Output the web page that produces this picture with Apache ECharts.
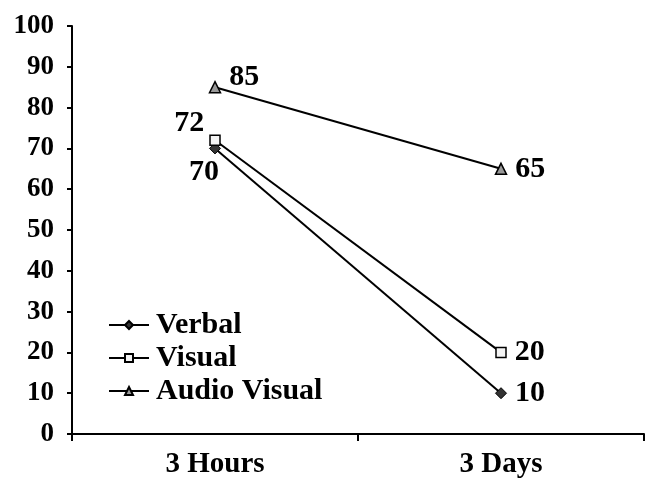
<!DOCTYPE html>
<html>
<head>
<meta charset="utf-8">
<script src="https://cdn.jsdelivr.net/npm/echarts@6/dist/echarts.min.js"></script>
<style>html,body{margin:0;padding:0;background:#fff;}#c{width:648px;height:480px;}</style>
</head>
<body>
<div id="c"></div>
<script>
var categories = ['3 Hours', '3 Days'];
var verbal = [70, 10];
var visual = [72, 20];
var audioVisual = [85, 65];
var seriesNames = ['Verbal', 'Visual', 'Audio Visual'];

var FONT = 'Liberation Serif, Times New Roman, serif';
var chart = echarts.init(document.getElementById('c'), null, {renderer: 'canvas'});
var lblBase = {show: true, fontFamily: FONT, fontWeight: 'bold', fontSize: 30, color: '#000'};

function mk(vals, firstLabel, lastLabel) {
  return vals.map(function (v, i) {
    return {value: v, label: Object.assign({}, lblBase, i === 0 ? firstLabel : lastLabel)};
  });
}

chart.setOption({
  animation: false,
  backgroundColor: '#fff',
  grid: {left: 72, right: 4, top: 26, bottom: 46},
  legend: {
    orient: 'vertical', left: 103, top: 305, padding: 5,
    itemWidth: 40, itemHeight: 10, itemGap: 3,
    textStyle: {fontFamily: FONT, fontWeight: 'bold', fontSize: 30, lineHeight: 30, color: '#000', padding: [0, 0, 0, 2]},
    data: seriesNames
  },
  xAxis: {
    type: 'category', data: categories, boundaryGap: true,
    axisLine: {lineStyle: {color: '#000', width: 2}},
    axisTick: {show: true, length: 7, lineStyle: {color: '#000', width: 2}},
    axisLabel: {fontFamily: FONT, fontWeight: 'bold', fontSize: 29, color: '#000', margin: 16}
  },
  yAxis: {
    type: 'value', min: 0, max: 100, interval: 10,
    axisLine: {show: true, lineStyle: {color: '#000', width: 2}},
    axisTick: {show: true, length: 5, lineStyle: {color: '#000', width: 2}},
    splitLine: {show: false},
    axisLabel: {fontFamily: FONT, fontWeight: 'bold', fontSize: 27, color: '#000', margin: 18}
  },
  series: [
    {name: seriesNames[0], type: 'line', symbol: 'diamond', symbolSize: 11,
     itemStyle: {color: '#333', borderColor: '#000', borderWidth: 1},
     lineStyle: {color: '#000', width: 2},
     data: mk(verbal, {position: 'bottom', offset: [-11, 0], distance: 3}, {position: 'right', distance: 8})},
    {name: seriesNames[1], type: 'line', symbol: 'rect', symbolSize: 10,
     itemStyle: {color: '#f4f4f4', borderColor: '#000', borderWidth: 1.5},
     lineStyle: {color: '#000', width: 2},
     data: mk(visual, {position: 'left', offset: [0, -17], distance: 5}, {position: 'right', distance: 8})},
    {name: seriesNames[2], type: 'line', symbol: 'triangle', symbolSize: 11,
     itemStyle: {color: '#999', borderColor: '#000', borderWidth: 1.5},
     lineStyle: {color: '#000', width: 2},
     data: mk(audioVisual, {position: 'right', offset: [0, -10], distance: 8}, {position: 'right', distance: 8})}
  ]
});
</script>
</body>
</html>
